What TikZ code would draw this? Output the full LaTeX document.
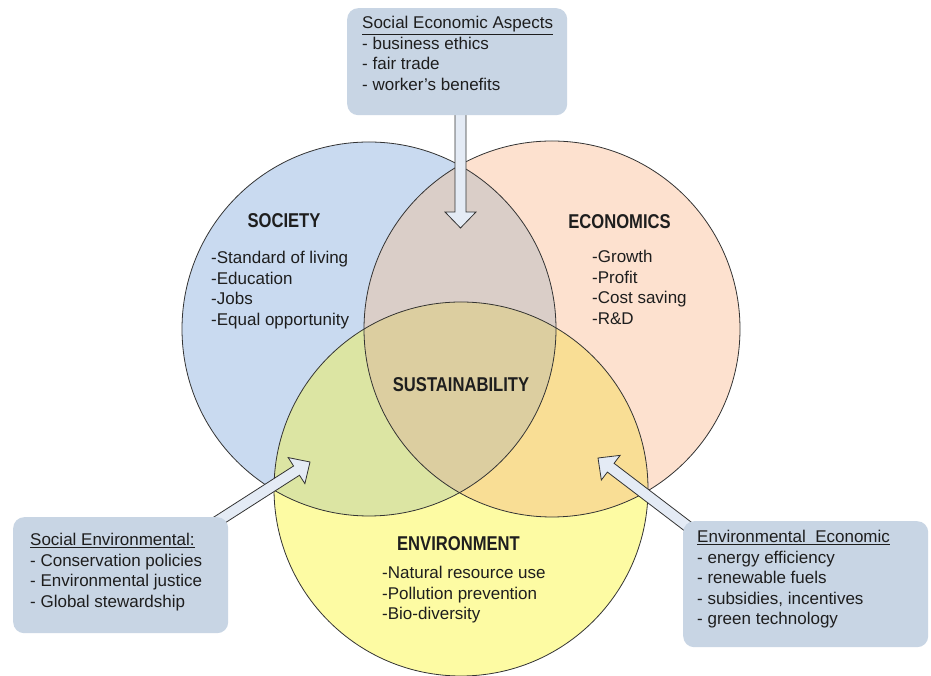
\documentclass[tikz,border=0pt]{standalone}
\usepackage{fontspec}
\setmainfont{Liberation Sans}
\newfontfamily\titlefont{Liberation Sans Bold}[FakeStretch=0.83]
\usetikzlibrary{calc}
\pgfdeclarelayer{circles}
\pgfdeclarelayer{arrows}
\pgfsetlayers{circles,arrows,main}
\definecolor{socC}{HTML}{C9DAF0}
\definecolor{ecoC}{HTML}{FDE1CF}
\definecolor{envC}{HTML}{FDFBA3}
\definecolor{seC}{HTML}{DACEC8}
\definecolor{svC}{HTML}{DCE5A3}
\definecolor{evC}{HTML}{F9DE95}
\definecolor{cenC}{HTML}{DCCEA0}
\definecolor{boxC}{HTML}{C8D5E4}
\definecolor{arrC}{HTML}{E4EBF5}
\definecolor{lineC}{HTML}{333333}
\definecolor{txtC}{HTML}{1E1E1E}
\newcommand\blockarrow[2]{%
  \path let \p1=($(#2)-(#1)$), \n1={atan2(\y1,\x1)}, \n2={veclen(\x1,\y1)} in
    \pgfextra{\pgfmathsetmacro\baang{\n1}\pgfmathsetmacro\balen{\n2}%
      \global\let\baang\baang\global\let\balen\balen};
  \draw[arrowshape, shift={(#1)}, rotate=\baang]
    (0,-5.5) -- ({\balen-16},-5.5) -- ({\balen-16},-15.5) -- (\balen,0)
    -- ({\balen-16},15.5) -- ({\balen-16},5.5) -- (0,5.5) -- cycle;
}
\begin{document}
\begin{tikzpicture}[x=1pt,y=1pt,
  circ/.style={draw=lineC, line width=0.8pt},
  titletxt/.style={anchor=base, inner sep=0pt, text=txtC, font=\titlefont\fontsize{20}{24}\selectfont},
  listtxt/.style={anchor=base west, inner sep=0pt, text=txtC, font=\fontsize{17}{20.4}\selectfont},
  infobox/.style={fill=boxC, draw=none, rounded corners=11pt, anchor=north west, inner sep=0pt},
  arrowshape/.style={fill=arrC, draw=lineC, line width=0.8pt, line join=miter}]
\useasboundingbox (0,0) rectangle (931,676);
\begin{pgfonlayer}{circles}
\fill[white] (0,0) rectangle (931,676);
\coordinate (S) at (369,347);
\coordinate (Ec) at (552,347);
\coordinate (V) at (461,187);
\fill[socC] (S) circle (187pt);
\fill[ecoC] (Ec) circle (188pt);
\fill[envC] (V) circle (187pt);
\begin{scope}\clip (S) circle (187pt); \fill[seC] (Ec) circle (188pt);\end{scope}
\begin{scope}\clip (S) circle (187pt); \fill[svC] (V) circle (187pt);\end{scope}
\begin{scope}\clip (Ec) circle (188pt); \fill[evC] (V) circle (187pt);\end{scope}
\begin{scope}\clip (S) circle (187pt); \clip (Ec) circle (188pt); \fill[cenC] (V) circle (187pt);\end{scope}
\draw[circ] (S) circle (187pt);
\draw[circ] (Ec) circle (188pt);
\draw[circ] (V) circle (187pt);
\node[titletxt] (socT) at (284,448) {SOCIETY};
\node[titletxt] (ecoT) at (619.5,447) {ECONOMICS};
\node[titletxt] (susT) at (461,284) {SUSTAINABILITY};
\node[titletxt] (envT) at (458.5,125) {ENVIRONMENT};
\node[listtxt] (socL) at (211,412) {\begin{tabular}[t]{@{}l@{}}-Standard of living\\-Education\\-Jobs\\-Equal opportunity\end{tabular}};
\node[listtxt] (ecoL) at (592,413) {\begin{tabular}[t]{@{}l@{}}-Growth\\-Profit\\-Cost saving\\-R\&D\end{tabular}};
\node[listtxt] (envL) at (382,97) {\begin{tabular}[t]{@{}l@{}}-Natural resource use\\-Pollution prevention\\-Bio-diversity\end{tabular}};
\end{pgfonlayer}
% boxes
\path (347,668) node[infobox, minimum width=220pt, minimum height=107pt] (topbox) {};
\path (13,159) node[infobox, minimum width=215pt, minimum height=116pt] (leftbox) {};
\path (683,155) node[infobox, minimum width=245pt, minimum height=126pt] (rightbox) {};
% arrows, under the boxes
\coordinate (tipA) at (460.5,448);
\coordinate (tailA) at ($(tipA |- topbox.south)+(0,4)$);
\coordinate (tipB) at (310,214);
\coordinate (tailB) at ($(leftbox.north east)+(-23,-12)$);
\coordinate (tipC) at (598,218);
\coordinate (tailC) at ($(rightbox.north west)+(20,-17)$);
\begin{pgfonlayer}{arrows}
\blockarrow{tailA}{tipA}
\blockarrow{tailB}{tipB}
\blockarrow{tailC}{tipC}
\end{pgfonlayer}
% box texts
\node[listtxt] (topT) at (362,647) {\begin{tabular}[t]{@{}l@{}}\underline{Social Economic Aspects}\\- business ethics\\- fair trade\\- worker's benefits\end{tabular}};
\node[listtxt] (leftT) at (30,130) {\begin{tabular}[t]{@{}l@{}}\underline{Social Environmental:}\\- Conservation policies\\- Environmental justice\\- Global stewardship\end{tabular}};
\node[listtxt] (rightT) at (697,133) {\begin{tabular}[t]{@{}l@{}}\underline{Environmental\ \ Economic}\\- energy efficiency\\- renewable fuels\\- subsidies, incentives\\- green technology\end{tabular}};
\end{tikzpicture}
\end{document}
